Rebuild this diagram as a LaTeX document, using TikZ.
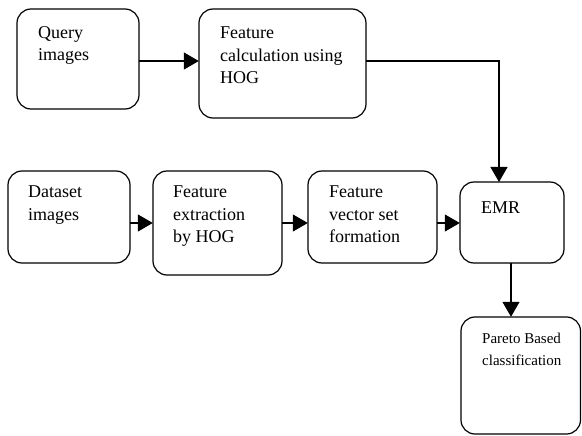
\documentclass[tikz,border=0pt]{standalone}
\usepackage{fontspec}
\setmainfont{Liberation Serif}
\usetikzlibrary{arrows.meta}
\begin{document}
\begin{tikzpicture}[x=1pt,y=-1pt,
  boxst/.style={draw=black, line width=1.2pt, rounded corners=14pt, inner sep=0pt},
  txt/.style={anchor=north west, inner sep=0pt, align=left, font=\fontsize{18}{22.5}\selectfont},
  smalltxt/.style={anchor=north west, inner sep=0pt, align=left, font=\fontsize{15}{22}\selectfont},
  arr/.style={line width=1.2pt, -{Triangle[length=15pt,width=17pt]}},
  ln/.style={line width=1.2pt}]
\useasboundingbox (0,0) rectangle (582,436);
% boxes
\draw[boxst] (17,9) rectangle (139,109);
\node[inner sep=0pt, minimum width=122pt, minimum height=100pt] (q) at (78,59) {};
\draw[boxst] (199,9) rectangle (366,118);
\node[inner sep=0pt, minimum width=167pt, minimum height=109pt] (fc) at (282.5,63.5) {};
\draw[boxst] (8,171) rectangle (130,263);
\node[inner sep=0pt, minimum width=122pt, minimum height=92pt] (ds) at (69,217) {};
\draw[boxst] (153,171) rectangle (282,275);
\node[inner sep=0pt, minimum width=129pt, minimum height=104pt] (fe) at (217.5,223) {};
\draw[boxst] (308,171) rectangle (437,263);
\node[inner sep=0pt, minimum width=129pt, minimum height=92pt] (fv) at (372.5,217) {};
\draw[boxst] (460,182) rectangle (564,263);
\node[inner sep=0pt, minimum width=104pt, minimum height=81pt] (emr) at (512,222.5) {};
\draw[boxst] (461,317) rectangle (580.5,434);
\node[inner sep=0pt, minimum width=119.5pt, minimum height=117pt] (par) at (520.75,375.5) {};
% texts
\node[txt] (tq) at (38,26) {Query\\images};
\node[txt] (tfc) at (220,27) {Feature\\calculation using\\HOG};
\node[txt] (tds) at (28,186) {Dataset\\images};
\node[txt] (tfe) at (173,186) {Feature\\extraction\\by HOG};
\node[txt] (tfv) at (329,186) {Feature\\vector set\\formation};
\node[txt] (temr) at (481,202) {EMR};
\node[smalltxt] (tpar) at (482,333) {Pareto Based\\classification};
% connectors
\coordinate (emrin) at (499,182);
\draw[arr] ([yshift=-2pt]q.east) -- ([yshift=-2pt]q.east -| fc.west);
\draw[ln] ([yshift=2.5pt]fc.east) -| ([yshift=15pt]emrin);
\draw[arr] ([yshift=15.6pt]emrin) -- (emrin);
\draw[arr] (ds.east |- fe.west) -- (fe.west);
\draw[arr] (fe.east) -- (fv.west |- fe.east);
\draw[arr] (fv.east |- fe.east) -- (emr.west |- fe.east);
\draw[arr] ([xshift=-1pt]emr.south) -- ([xshift=-1pt]emr.south |- par.north);
\end{tikzpicture}
\end{document}
